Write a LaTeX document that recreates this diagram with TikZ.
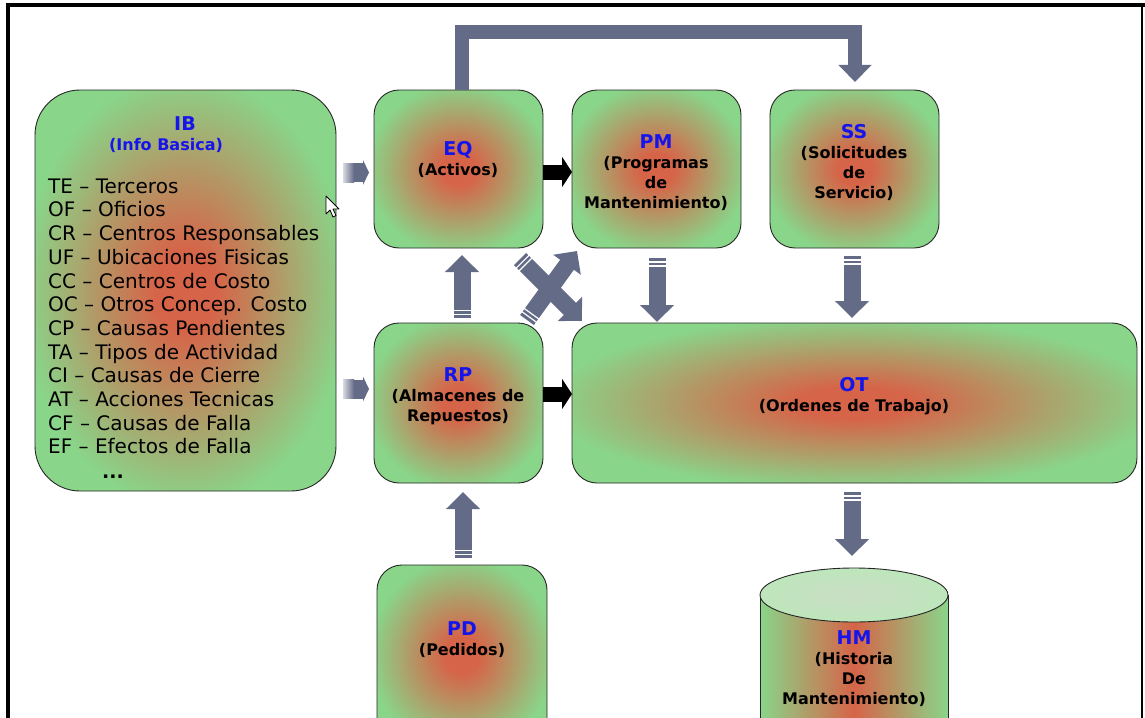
\documentclass[tikz,border=0pt]{standalone}
\usepackage{fontspec}
\setmainfont{DejaVu Sans}
\usetikzlibrary{arrows.meta,calc}
\definecolor{agray}{RGB}{100,107,135}
\definecolor{gr}{RGB}{137,213,137}
\definecolor{rd}{RGB}{214,100,72}
\definecolor{tblue}{RGB}{20,20,235}
\definecolor{ltg}{RGB}{190,230,188}
\definecolor{ltgc}{RGB}{202,222,196}
\pgfdeclareradialshading{blob}{\pgfpoint{0bp}{0bp}}{color(0bp)=(rd); color(5bp)=(rd); color(27bp)=(gr); color(50bp)=(gr)}
\newcommand\garrow[2]{%
  \draw[agray, line width=17pt, dash pattern=on 3pt off 1.5pt on 2.5pt off 1.5pt] (#1) -- ($(#1)!8.5pt!(#2)$);
  \draw[agray, line width=17pt, -{Triangle[width=33pt,length=17pt]}] ($(#1)!8.5pt!(#2)$) -- (#2);}
\newcommand\harrow[1]{%
  \shade[left color=agray!25, right color=agray] ($(#1)+(0,-9.5)$) rectangle ($(#1)+(11,9.5)$);
  \fill[agray] ($(#1)+(10.5,-9.5)$) rectangle ($(#1)+(20,9.5)$);
  \fill[agray] ($(#1)+(20,-12.5)$) -- ($(#1)+(26,0)$) -- ($(#1)+(20,12.5)$) -- cycle;}
\newcommand\tl[1]{{\color{tblue}\fontsize{19}{20}\selectfont #1}}
\begin{document}
\begin{tikzpicture}[x=1pt,y=-1pt,
  box/.style={draw=black!85, line width=0.9pt, rounded corners=25pt, shade, shading=blob, inner sep=0pt, outer sep=0pt},
  lbl/.style={align=center, inner sep=0pt, anchor=north, font=\bfseries\fontsize{16}{20}\selectfont},
  barrow/.style={black, line width=15pt, -{Triangle[width=30pt,length=10pt]}}]
\useasboundingbox (0,0) rectangle (1145,717);
\clip (0,0) rectangle (1145,717);
\fill[white] (0,0) rectangle (1145,717);

% boxes
\node[box, rounded corners=45pt, minimum width=301pt, minimum height=401pt] (IB) at (185.5,290.5) {};
\node[box, minimum width=169pt, minimum height=158pt] (EQ) at (458.5,169) {};
\node[box, minimum width=169pt, minimum height=158pt] (PM) at (656.5,169) {};
\node[box, minimum width=169pt, minimum height=158pt] (SS) at (854.5,169) {};
\node[box, minimum width=169pt, minimum height=160pt] (RP) at (458.5,403) {};
\node[box, minimum width=565pt, minimum height=160pt] (OT) at (854.5,403) {};
\node[box, minimum width=170pt, minimum height=180pt] (PD) at (462,655) {};

% cylinder HM
\shade[left color=gr, right color=gr, middle color=rd] (760,595) rectangle (948,730);
\draw[line width=0.9pt, black!85] (760,595) -- (760,730) (948,595) -- (948,730);
\draw[line width=0.9pt, draw=black!85, inner color=ltgc, outer color=ltg] (854,595) ellipse [x radius=94pt, y radius=27pt];
\coordinate (HMtop) at (854,568);

% texts
\node[font=\bfseries\fontsize{19}{20}\selectfont, text=tblue] (IBt) at (185,124) {IB};
\node[font=\bfseries\fontsize{16}{20}\selectfont, text=tblue] (IBs) at (166,145) {(Info Basica)};
\node[anchor=north west, align=left, inner sep=0pt, font=\fontsize{20}{23.7}\selectfont] (IBl) at (48,178.5)
  {TE – Terceros\\OF – Oficios\\CR – Centros Responsables\\UF – Ubicaciones Fisicas\\CC – Centros de Costo\\OC – Otros Concep. Costo\\CP – Causas Pendientes\\TA – Tipos de Actividad\\CI – Causas de Cierre\\AT – Acciones Tecnicas\\CF – Causas de Falla\\EF – Efectos de Falla};
\node[anchor=base, inner sep=0pt, font=\bfseries\fontsize{19}{20}\selectfont] (IBd) at (113,478) {...};

\node[lbl] (EQt) at (458,141) {\tl{EQ}\\(Activos)};
\node[lbl] (PMt) at (656,134) {\tl{PM}\\(Programas\\de\\Mantenimiento)};
\node[lbl] (SSt) at (854,124) {\tl{SS}\\(Solicitudes\\de\\Servicio)};
\node[lbl] (RPt) at (458,367) {\tl{RP}\\(Almacenes de\\Repuestos)};
\node[lbl] (OTt) at (854,377) {\tl{OT}\\(Ordenes de Trabajo)};
\node[lbl] (PDt) at (462,621) {\tl{PD}\\(Pedidos)};
\node[lbl] (HMt) at (854,630) {\tl{HM}\\(Historia\\De\\Mantenimiento)};

% top connector EQ -> SS
\draw[agray, line width=14pt, line join=miter, shorten >=8pt, -{Triangle[width=32pt,length=17pt]}]
  ([xshift=3.5pt]EQ.north) -- ++(0,-58) -| ([xshift=0.5pt]SS.north);

% black arrows
\draw[barrow] ([yshift=-3pt]EQ.east) -- ([yshift=-3pt]PM.west);
\draw[barrow] ([yshift=9pt]RP.east) -- ([yshift=9pt]OT.west);

% small arrows from IB
\coordinate (h1) at ($(IB.east|-EQ.west)+(7,3.5)$);
\coordinate (h2) at ($(IB.east|-RP.west)+(7,-14)$);
\harrow{h1}
\harrow{h2}

% gray block arrows
\coordinate (a1s) at ($(RP.north)+(3.5,-5)$);
\coordinate (a1e) at ($(EQ.south)+(3.5,7)$);
\coordinate (a2s) at ($(PD.north)+(1,-7)$);
\coordinate (a2e) at ($(RP.south)+(4.5,9)$);
\coordinate (a3s) at ($(PM.south)+(0.5,10)$);
\coordinate (a3e) at ($(PM.south|-OT.north)+(0.5,-1)$);
\coordinate (a4s) at ($(SS.south)+(-2.5,8)$);
\coordinate (a4e) at ($(SS.south|-OT.north)+(-2.5,-5)$);
\coordinate (a5s) at ($(OT.south)+(-2.5,9)$);
\coordinate (a5e) at ($(HMtop)+(-2,-12)$);
\coordinate (c1s) at ($(RP.north east)+(-16,-3)$);
\coordinate (c1e) at ($(PM.south west)+(5,3)$);
\coordinate (c2s) at ($(EQ.south east)+(-23,11)$);
\coordinate (c2e) at ($(OT.north west)+(10,-2)$);
\garrow{a1s}{a1e}
\garrow{a2s}{a2e}
\garrow{a3s}{a3e}
\garrow{a4s}{a4e}
\garrow{a5s}{a5e}
\garrow{c1s}{c1e}
\garrow{c2s}{c2e}

% mouse cursor
\filldraw[fill=white, draw=black, line width=0.8pt, line join=round]
  (326,196) -- (326,214) -- (330,210) -- (333,217) -- (336,215.5) -- (333,209) -- (339,209) -- cycle;

% frame
\draw[line width=4pt] (8,720) -- (8,5) -- (1146,5);
\draw[line width=2pt] (1142,5) -- (1142,720);
\end{tikzpicture}
\end{document}
